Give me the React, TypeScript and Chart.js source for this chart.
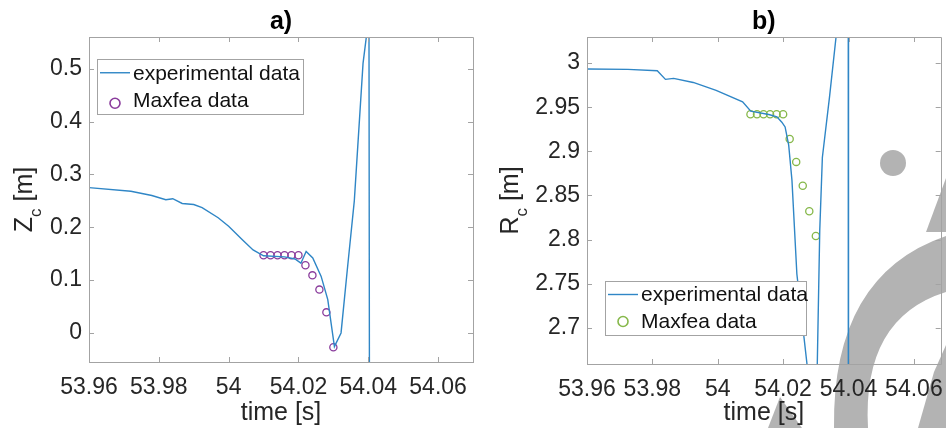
import React, { useEffect, useRef } from 'react';
import { Chart, registerables } from 'chart.js';

Chart.register(...registerables);

// ---------- data ----------
const panelTitles = ['a)', 'b)'];
const seriesLabels = ['experimental data', 'Maxfea data'];
const xAxisTitle = 'time [s]';

const xTicks = [53.96, 53.98, 54, 54.02, 54.04, 54.06];
const zTicks = [0, 0.1, 0.2, 0.3, 0.4, 0.5];
const rTicks = [2.7, 2.75, 2.8, 2.85, 2.9, 2.95, 3];

// panel a) Zc
const zExpTime = [
  53.96, 53.972, 53.978, 53.982, 53.984, 53.9867, 53.99, 53.9924, 53.997, 54.0,
  54.004, 54.007, 54.01, 54.016, 54.019, 54.0207, 54.0222, 54.0241, 54.0265,
  54.0284, 54.0303, 54.0322, 54.034, 54.036, 54.0385, 54.0402, 54.0406,
];
const zExpValue = [
  0.275, 0.268, 0.26, 0.252, 0.254, 0.245, 0.243, 0.237, 0.218, 0.202,
  0.176, 0.157, 0.146, 0.144, 0.14, 0.132, 0.154, 0.142, 0.107,
  0.063, -0.026, 0.0, 0.12, 0.25, 0.51, 0.6, -1.5,
];
const zMaxTime = [54.01, 54.012, 54.014, 54.016, 54.018, 54.02, 54.022, 54.024, 54.026, 54.028, 54.03];
const zMaxValue = [0.147, 0.147, 0.147, 0.147, 0.147, 0.147, 0.128, 0.109, 0.082, 0.039, -0.027];

// panel b) Rc
const rExpTime = [
  53.96, 53.9725, 53.9815, 53.984, 53.9865, 53.9925, 53.9995, 54.0076, 54.0101,
  54.0156, 54.0181, 54.0196, 54.0206, 54.0217, 54.0227, 54.0242, 54.03, 54.0312,
  54.032, 54.0342, 54.0362, 54.038, 54.0399, 54.04,
];
const rExpValue = [
  2.9932, 2.9928, 2.9913, 2.9815, 2.9826, 2.978, 2.969, 2.956, 2.9455,
  2.9417, 2.939, 2.933, 2.9276, 2.907, 2.867, 2.761, 2.57, 2.81,
  2.893, 2.962, 3.03, 3.09, 3.6, 1.0,
];
const rMaxTime = [54.01, 54.012, 54.014, 54.016, 54.018, 54.02, 54.022, 54.024, 54.026, 54.028, 54.03];
const rMaxValue = [2.942, 2.942, 2.942, 2.942, 2.942, 2.942, 2.914, 2.888, 2.861, 2.832, 2.804];

// ---------- styles ----------
const FONT = "'Liberation Sans', Arial, Helvetica, sans-serif";
const AXIS_COLOR = '#a3a3a3';
const TEXT_COLOR = '#262626';
const LINE_COLOR = '#2f86c6';
const PURPLE = '#8a3c9c';
const GREEN = '#86b84a';

const fmt = (v: number) => String(Number(v.toFixed(3)));

const boxPlugin = {
  id: 'matlabBox',
  afterDatasetsDraw(chart: any) {
    const { ctx, chartArea: a, scales } = chart;
    ctx.save();
    ctx.strokeStyle = AXIS_COLOR;
    ctx.lineWidth = 1;
    ctx.beginPath();
    ctx.rect(Math.round(a.left) + 0.5, Math.round(a.top) + 0.5, Math.round(a.right - a.left), Math.round(a.bottom - a.top));
    const len = 5;
    scales.x.ticks.forEach((t: any) => {
      const px = Math.round(scales.x.getPixelForValue(t.value)) + 0.5;
      ctx.moveTo(px, a.bottom);
      ctx.lineTo(px, a.bottom - len);
      ctx.moveTo(px, a.top);
      ctx.lineTo(px, a.top + len);
    });
    scales.y.ticks.forEach((t: any) => {
      const py = Math.round(scales.y.getPixelForValue(t.value)) + 0.5;
      ctx.moveTo(a.left, py);
      ctx.lineTo(a.left + len, py);
      ctx.moveTo(a.right, py);
      ctx.lineTo(a.right - len, py);
    });
    ctx.stroke();
    ctx.restore();
  },
};

const legendPlugin = {
  id: 'boxLegend',
  afterDatasetsDraw(chart: any, _args: any, o: any) {
    const { ctx, chartArea: a } = chart;
    const ds = chart.data.datasets;
    const x0 = Math.round(a.left + o.dx);
    const y0 = Math.round(a.top + o.dy);
    ctx.save();
    ctx.fillStyle = '#ffffff';
    ctx.fillRect(x0, y0, o.w, o.h);
    ctx.strokeStyle = AXIS_COLOR;
    ctx.lineWidth = 1;
    ctx.strokeRect(x0 + 0.5, y0 + 0.5, o.w, o.h);
    ctx.font = `21px ${FONT}`;
    ctx.textBaseline = 'middle';
    ctx.fillStyle = '#111111';
    const r1 = y0 + o.h * 0.25;
    const r2 = y0 + o.h * 0.75;
    ctx.strokeStyle = ds[0].borderColor;
    ctx.lineWidth = ds[0].borderWidth;
    ctx.beginPath();
    ctx.moveTo(x0 + 3, r1);
    ctx.lineTo(x0 + 33, r1);
    ctx.stroke();
    ctx.strokeStyle = ds[1].borderColor;
    ctx.lineWidth = 1.6;
    ctx.beginPath();
    ctx.arc(x0 + 18, r2 + o.markerDy, 5, 0, Math.PI * 2);
    ctx.stroke();
    ctx.fillText(ds[0].label, x0 + 36, r1 + 1);
    ctx.fillText(ds[1].label, x0 + 36, r2 + 1);
    ctx.restore();
  },
};

const yTitlePlugin = {
  id: 'yTitle',
  afterDraw(chart: any, _args: any, o: any) {
    const { ctx, chartArea: a } = chart;
    const cy = (a.top + a.bottom) / 2;
    ctx.save();
    ctx.translate(o.x, cy);
    ctx.rotate(-Math.PI / 2);
    ctx.fillStyle = TEXT_COLOR;
    ctx.textBaseline = 'alphabetic';
    ctx.textAlign = 'left';
    const big = `25px ${FONT}`;
    const small = `17px ${FONT}`;
    ctx.font = big;
    const w1 = ctx.measureText(o.main).width;
    const w3 = ctx.measureText(o.rest).width;
    ctx.font = small;
    const w2 = ctx.measureText(o.sub).width;
    let x = -(w1 + w2 + w3) / 2;
    ctx.font = big;
    ctx.fillText(o.main, x, 0);
    x += w1;
    ctx.font = small;
    ctx.fillText(o.sub, x, 9);
    x += w2;
    ctx.font = big;
    ctx.fillText(o.rest, x, 0);
    ctx.restore();
  },
};

// faint grey overlay mark seen in the lower right of the source image (drawn underneath)
const watermarkPlugin = {
  id: 'watermark',
  beforeDraw(chart: any, _args: any, o: any) {
    if (!o || !o.on) return;
    const { ctx } = chart;
    const ox = o.offsetX;
    ctx.save();
    ctx.translate(-ox, 0);
    ctx.fillStyle = '#b3b3b3';
    ctx.beginPath();
    ctx.arc(893, 163, 13, 0, Math.PI * 2);
    ctx.fill();
    // big crescent
    ctx.beginPath();
    ctx.moveTo(946, 236);
    ctx.quadraticCurveTo(832, 275, 834, 428);
    ctx.lineTo(868, 428);
    ctx.quadraticCurveTo(862, 318, 946, 292);
    ctx.closePath();
    ctx.fill();
    // small pointed piece top right
    ctx.beginPath();
    ctx.moveTo(946, 178);
    ctx.lineTo(946, 232);
    ctx.lineTo(926, 232);
    ctx.closePath();
    ctx.fill();
    // stem at lower right
    ctx.beginPath();
    ctx.moveTo(946, 345);
    ctx.lineTo(946, 428);
    ctx.lineTo(918, 428);
    ctx.lineTo(934, 372);
    ctx.closePath();
    ctx.fill();
    // wedge below the axis
    ctx.beginPath();
    ctx.moveTo(780, 397);
    ctx.lineTo(802, 428);
    ctx.lineTo(768, 428);
    ctx.closePath();
    ctx.fill();
    ctx.restore();
  },
};

function makeConfig(p: {
  title: string;
  expT: number[]; expV: number[]; maxT: number[]; maxV: number[];
  yTicks: number[]; yMin: number; yMax: number; xMax: number;
  markerColor: string; yAxisWidth: number; xAxisHeight: number; padRight: number;
  legend: any; yTitle: any; watermark: any;
}) {
  return {
    type: 'scatter',
    data: {
      datasets: [
        {
          label: seriesLabels[0],
          data: p.expT.map((t, i) => ({ x: t, y: p.expV[i] })),
          showLine: true,
          borderColor: LINE_COLOR,
          backgroundColor: LINE_COLOR,
          borderWidth: 1.4,
          pointRadius: 0,
          tension: 0,
          clip: 0,
        },
        {
          label: seriesLabels[1],
          data: p.maxT.map((t, i) => ({ x: t, y: p.maxV[i] })),
          showLine: false,
          borderColor: p.markerColor,
          backgroundColor: 'rgba(0,0,0,0)',
          borderWidth: 1.3,
          pointRadius: 3.6,
          pointStyle: 'circle',
          clip: 0,
        },
      ],
    },
    options: {
      responsive: false,
      maintainAspectRatio: false,
      animation: false,
      events: [],
      layout: { padding: { left: 0, right: p.padRight, top: 0, bottom: 0 } },
      plugins: {
        legend: { display: false },
        tooltip: { enabled: false },
        title: {
          display: true,
          text: p.title,
          fullSize: false,
          color: '#000000',
          font: { family: FONT, size: 25, weight: 'bold', lineHeight: 1 },
          padding: { top: 9.5, bottom: 2.5 },
        },
        boxLegend: p.legend,
        yTitle: p.yTitle,
        watermark: p.watermark,
      },
      scales: {
        x: {
          type: 'linear',
          position: 'bottom',
          min: 53.96,
          max: p.xMax,
          afterBuildTicks: (s: any) => { s.ticks = xTicks.map((v) => ({ value: v })); },
          afterFit: (s: any) => { s.height = p.xAxisHeight; s.paddingLeft = 0; s.paddingRight = 0; },
          grid: { display: false, drawTicks: false },
          border: { display: true, color: AXIS_COLOR },
          ticks: {
            color: TEXT_COLOR,
            font: { family: FONT, size: 23 },
            padding: 11.5,
            maxRotation: 0,
            autoSkip: false,
            callback: (v: any) => fmt(Number(v)),
          },
          title: {
            display: true,
            text: xAxisTitle,
            color: TEXT_COLOR,
            font: { family: FONT, size: 25, lineHeight: 1.2 },
            padding: { top: 0, bottom: 0 },
          },
        },
        y: {
          type: 'linear',
          min: p.yMin,
          max: p.yMax,
          afterBuildTicks: (s: any) => { s.ticks = p.yTicks.map((v) => ({ value: v })); },
          afterFit: (s: any) => { s.width = p.yAxisWidth; s.paddingTop = 0; s.paddingBottom = 0; },
          grid: { display: false, drawTicks: false },
          border: { display: true, color: AXIS_COLOR },
          ticks: {
            color: TEXT_COLOR,
            font: { family: FONT, size: 23 },
            padding: 7,
            autoSkip: false,
            callback: (v: any) => fmt(Number(v)),
          },
        },
      },
    },
    plugins: [watermarkPlugin, boxPlugin, legendPlugin, yTitlePlugin],
  };
}

function Panel(props: { cfg: any; left: number; width: number }) {
  const ref = useRef<HTMLCanvasElement | null>(null);
  useEffect(() => {
    if (!ref.current) return;
    const chart = new Chart(ref.current, props.cfg);
    return () => chart.destroy();
  }, []);
  return (
    <canvas
      ref={ref}
      width={props.width}
      height={428}
      style={{ position: 'absolute', left: props.left, top: 0, width: props.width, height: 428 }}
    />
  );
}

export default function App() {
  const cfgA = makeConfig({
    title: panelTitles[0],
    expT: zExpTime, expV: zExpValue, maxT: zMaxTime, maxV: zMaxValue,
    yTicks: zTicks, yMin: -0.055, yMax: 0.56, xMax: 54.07,
    markerColor: PURPLE, yAxisWidth: 89, xAxisHeight: 66, padRight: 7,
    legend: { dx: 8, dy: 22, w: 206, h: 55, markerDy: 3 },
    yTitle: { x: 32, main: 'Z', sub: 'c', rest: ' [m]' },
    watermark: { on: false },
  });
  const cfgB = makeConfig({
    title: panelTitles[1],
    expT: rExpTime, expV: rExpValue, maxT: rMaxTime, maxV: rMaxValue,
    yTicks: rTicks, yMin: 2.659, yMax: 3.0295, xMax: 54.0682,
    markerColor: GREEN, yAxisWidth: 107, xAxisHeight: 64, padRight: 1,
    legend: { dx: 18, dy: 244, w: 201, h: 54, markerDy: 0 },
    yTitle: { x: 38, main: 'R', sub: 'c', rest: ' [m]' },
    watermark: { on: true, offsetX: 480 },
  });
  return (
    <div style={{ position: 'absolute', left: 0, top: 0, width: 946, height: 428, background: '#ffffff', overflow: 'hidden' }}>
      <Panel cfg={cfgA} left={0} width={480} />
      <Panel cfg={cfgB} left={480} width={466} />
    </div>
  );
}
